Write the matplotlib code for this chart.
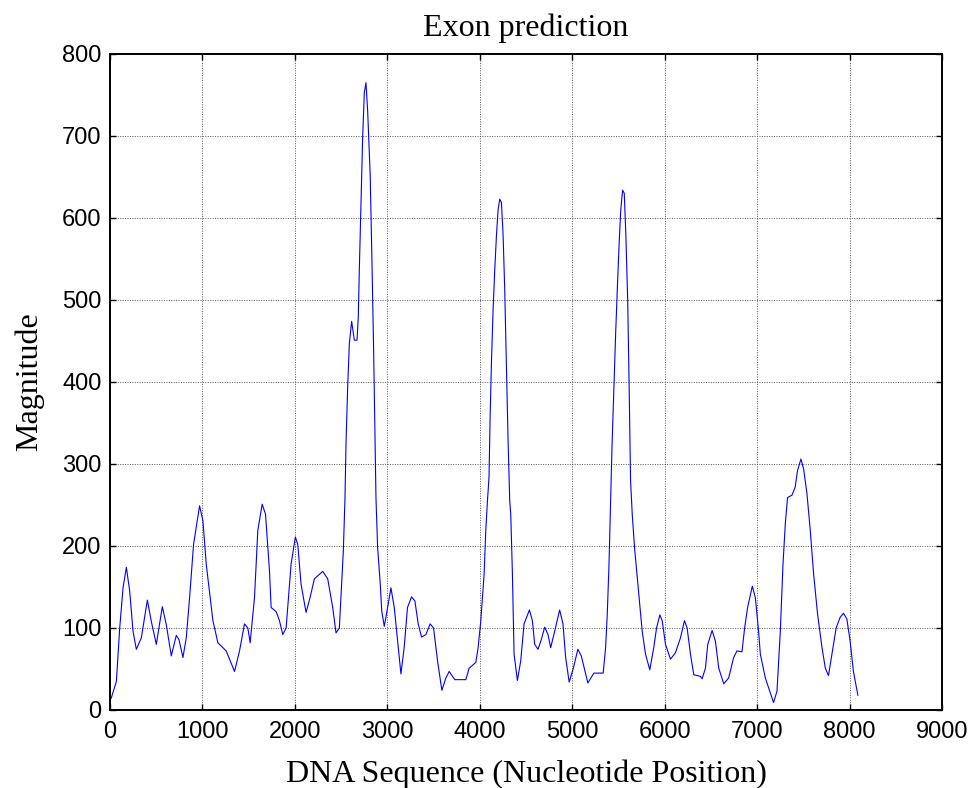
import matplotlib
matplotlib.use("Agg")
import matplotlib.pyplot as plt

position = [0, 15, 69, 105, 141, 177, 213, 249, 285, 339, 404, 447, 501, 566, 609, 663,
            717, 746, 789, 825, 861, 904, 969, 1005, 1041, 1113, 1167, 1257, 1347, 1401,
            1455, 1491, 1516, 1563, 1599, 1646, 1682, 1725, 1743, 1797, 1833, 1869, 1905,
            1959, 2005, 2031, 2067, 2121, 2164, 2211, 2301, 2355, 2409, 2445, 2481, 2524,
            2542, 2553, 2571, 2589, 2614, 2643, 2672, 2686, 2697, 2715, 2733, 2751, 2769,
            2787, 2815, 2834, 2852, 2866, 2877, 2895, 2924, 2939, 2967, 3003, 3039, 3075,
            3111, 3147, 3182, 3218, 3262, 3298, 3334, 3370, 3417, 3463, 3500, 3543, 3590,
            3633, 3669, 3730, 3849, 3885, 3957, 3982, 4011, 4047, 4065, 4083, 4100, 4111,
            4126, 4144, 4162, 4180, 4198, 4216, 4234, 4252, 4270, 4288, 4306, 4324, 4335,
            4353, 4371, 4407, 4443, 4479, 4537, 4569, 4594, 4630, 4666, 4702, 4738, 4767,
            4810, 4864, 4900, 4929, 4967, 5012, 5061, 5098, 5169, 5234, 5335, 5361, 5379,
            5397, 5415, 5430, 5450, 5470, 5490, 5508, 5525, 5545, 5563, 5580, 5600, 5615,
            5631, 5649, 5674, 5720, 5757, 5793, 5839, 5882, 5912, 5948, 5973, 6009, 6063,
            6117, 6171, 6214, 6243, 6279, 6315, 6387, 6405, 6441, 6466, 6513, 6549, 6585,
            6639, 6692, 6746, 6782, 6836, 6865, 6897, 6948, 6981, 7016, 7035, 7089, 7178,
            7215, 7251, 7280, 7305, 7329, 7377, 7412, 7437, 7474, 7503, 7539, 7575, 7611,
            7654, 7702, 7738, 7772, 7809, 7855, 7898, 7934, 7971, 8006, 8042, 8090]

magnitude = [12, 15, 35, 100, 149, 174, 145, 96, 74, 88, 134, 108, 80, 126, 104, 66,
             91, 86, 64, 88, 137, 202, 249, 231, 178, 109, 82, 72, 47, 72,
             105, 100, 82, 137, 219, 251, 239, 170, 125, 120, 109, 92, 100,
             178, 211, 202, 153, 119, 137, 160, 169, 160, 125, 94, 100, 194,
             259, 325, 394, 447, 474, 451, 451, 480, 537, 620, 698, 753, 765,
             731, 651, 545, 437, 337, 259, 198, 153, 121, 102, 125, 149, 125,
             84, 44, 76, 125, 138, 133, 105, 89, 92, 105, 100, 60, 24,
             39, 47, 37, 37, 51, 58, 76, 109, 166, 219, 255, 284, 353,
             423, 488, 537, 578, 610, 623, 619, 580, 512, 423, 329, 255, 239,
             166, 68, 36, 60, 105, 122, 109, 80, 74, 86, 101, 92, 76,
             96, 122, 105, 64, 34, 51, 74, 66, 33, 45, 45, 76, 117,
             174, 255, 320, 390, 460, 520, 570, 610, 634, 630, 580, 500, 400,
             280, 239, 198, 141, 96, 68, 49, 76, 100, 116, 109, 80, 62,
             70, 88, 109, 100, 68, 43, 41, 38, 51, 80, 97, 84, 51,
             32, 39, 64, 72, 71, 100, 125, 151, 137, 96, 68, 39, 9,
             23, 96, 178, 227, 259, 262, 272, 292, 306, 294, 264, 219, 166,
             117, 76, 51, 42, 68, 100, 113, 118, 111, 84, 47, 18]

x_ticks = [0, 1000, 2000, 3000, 4000, 5000, 6000, 7000, 8000, 9000]
y_ticks = [0, 100, 200, 300, 400, 500, 600, 700, 800]

fig = plt.figure(figsize=(9.74, 7.88), dpi=100)
ax = fig.add_axes([110/974, 78/788, 832/974, 656/788])

ax.plot(position, magnitude, color="#0000FF", linewidth=0.8)

ax.set_xlim(0, 9000)
ax.set_ylim(0, 800)
ax.set_xticks(x_ticks)
ax.set_yticks(y_ticks)
ax.set_xticklabels([str(t) for t in x_ticks], family="Liberation Sans", fontsize=17)
ax.set_yticklabels([str(t) for t in y_ticks], family="Liberation Sans", fontsize=17)

ax.tick_params(direction="in", length=4, width=1, top=True, right=True, pad=6)
ax.tick_params(axis="x", pad=8)
ax.grid(True, color="#555555", linestyle=(0, (1, 1.5)), linewidth=0.7)
for s in ax.spines.values():
    s.set_linewidth(1.4)

ax.set_title("Exon prediction", family="Liberation Serif", fontsize=23, pad=13)
ax.set_xlabel("DNA Sequence (Nucleotide Position)", family="Liberation Serif", fontsize=23, labelpad=12)
ax.set_ylabel("Magnitude", family="Liberation Serif", fontsize=23, labelpad=13)

fig.savefig("out.png", dpi=100, facecolor="white")
